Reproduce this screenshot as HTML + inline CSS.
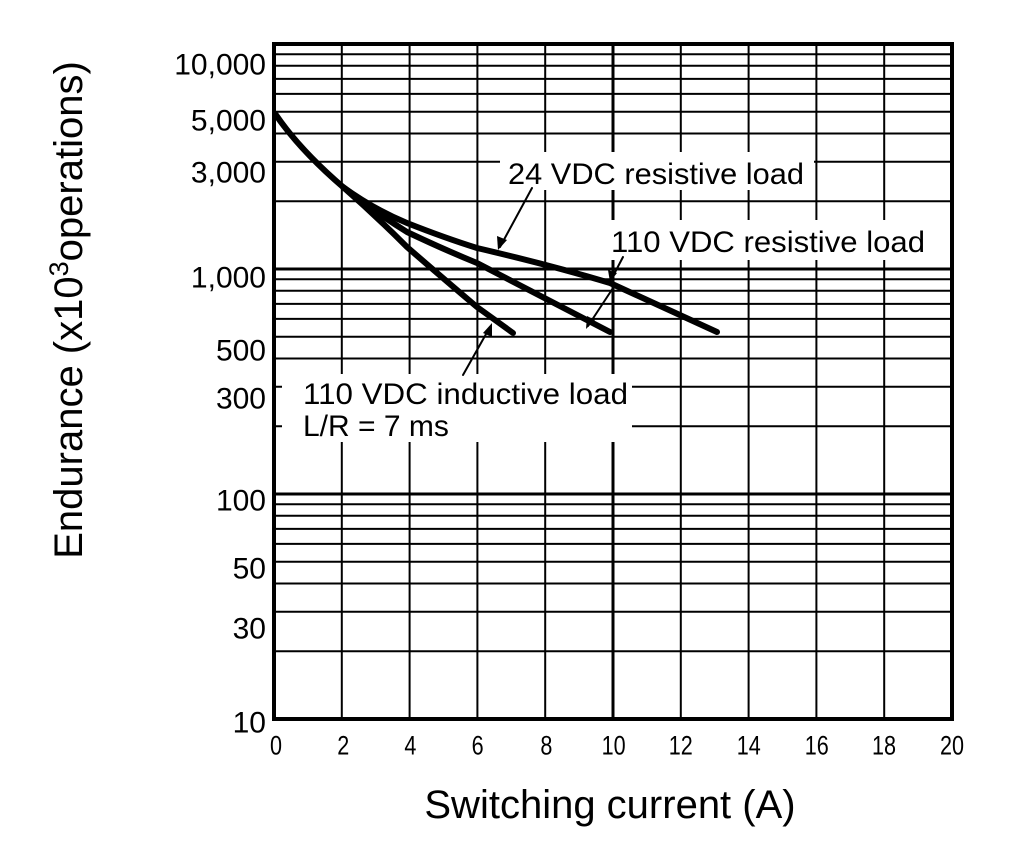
<!DOCTYPE html>
<html><head><meta charset="utf-8"><style>html,body{margin:0;padding:0;background:#fff}svg{display:block}</style></head>
<body>
<svg width="1020" height="848" viewBox="0 0 1020 848" xmlns="http://www.w3.org/2000/svg" font-family="Liberation Sans, sans-serif">
<rect width="1020" height="848" fill="#fff"/>
<g stroke="#000" stroke-width="2">
<line x1="274" x2="952" y1="651.3" y2="651.3"/><line x1="274" x2="952" y1="611.7" y2="611.7"/><line x1="274" x2="952" y1="583.5" y2="583.5"/><line x1="274" x2="952" y1="561.7" y2="561.7"/><line x1="274" x2="952" y1="543.9" y2="543.9"/><line x1="274" x2="952" y1="528.9" y2="528.9"/><line x1="274" x2="952" y1="515.8" y2="515.8"/><line x1="274" x2="952" y1="504.3" y2="504.3"/><line x1="274" x2="952" y1="494" y2="494" stroke-width="3"/>
<line x1="274" x2="952" y1="426.3" y2="426.3"/><line x1="274" x2="952" y1="386.7" y2="386.7"/><line x1="274" x2="952" y1="358.5" y2="358.5"/><line x1="274" x2="952" y1="336.7" y2="336.7"/><line x1="274" x2="952" y1="318.9" y2="318.9"/><line x1="274" x2="952" y1="303.9" y2="303.9"/><line x1="274" x2="952" y1="290.8" y2="290.8"/><line x1="274" x2="952" y1="279.3" y2="279.3"/><line x1="274" x2="952" y1="269" y2="269" stroke-width="3"/>
<line x1="274" x2="952" y1="201.3" y2="201.3"/><line x1="274" x2="952" y1="161.7" y2="161.7"/><line x1="274" x2="952" y1="133.5" y2="133.5"/><line x1="274" x2="952" y1="111.7" y2="111.7"/><line x1="274" x2="952" y1="93.9" y2="93.9"/><line x1="274" x2="952" y1="78.9" y2="78.9"/><line x1="274" x2="952" y1="65.8" y2="65.8"/><line x1="274" x2="952" y1="54.3" y2="54.3"/>
<line x1="341.8" x2="341.8" y1="44" y2="719"/><line x1="409.6" x2="409.6" y1="44" y2="719"/><line x1="477.4" x2="477.4" y1="44" y2="719"/><line x1="545.2" x2="545.2" y1="44" y2="719"/><line x1="613" x2="613" y1="44" y2="719" stroke-width="3"/><line x1="680.8" x2="680.8" y1="44" y2="719"/><line x1="748.6" x2="748.6" y1="44" y2="719"/><line x1="816.4" x2="816.4" y1="44" y2="719"/><line x1="884.2" x2="884.2" y1="44" y2="719"/>
<rect x="274" y="44" width="678" height="675" fill="none" stroke-width="4"/>
</g>
<g fill="#fff">
<rect x="500" y="152" width="314" height="38"/>
<rect x="606" y="220" width="324" height="40"/>
<rect x="282" y="374" width="350" height="68"/>
</g>
<g fill="none" stroke="#000" stroke-linecap="round" stroke-linejoin="round">
<path d="M276,115 Q300,150 343,187 Q375,215 407,247 Q445,280 477,307 L513,333" stroke-width="6"/>
<path d="M343,187 Q375,212 407,232 Q445,250 477,263 L610,332" stroke-width="6"/>
<path d="M343,187 Q375,210 407,223 Q445,238 477,248 Q550,265 610,283 L717,332" stroke-width="6"/>
<path d="M532,188 L500,247" stroke-width="2"/>
<path d="M623,257 L612,278" stroke-width="2"/>
<path d="M615,285 L588,326" stroke-width="2"/>
<path d="M463,375 L490,327" stroke-width="2"/>
</g>
<g fill="#000">
<polygon points="498,250 497,236 507,240"/>
<polygon points="610,282 608,270 617,273"/>
<polygon points="586,329 587,316 595,320"/>
<polygon points="492,323 483,333 492,337"/>
</g>
<g font-size="30" fill="#000">
<text x="508" y="184" textLength="296" lengthAdjust="spacingAndGlyphs">24 VDC resistive load</text>
<text x="611" y="252" textLength="314" lengthAdjust="spacingAndGlyphs">110 VDC resistive load</text>
<text x="303" y="404" textLength="325" lengthAdjust="spacingAndGlyphs">110 VDC inductive load</text>
<text x="303" y="436">L/R = 7 ms</text>
</g>
<g font-size="30" fill="#000" text-anchor="end" dominant-baseline="central">
<text x="266" y="65">10,000</text><text x="266" y="121">5,000</text><text x="266" y="173">3,000</text><text x="266" y="278">1,000</text><text x="266" y="351">500</text><text x="266" y="399">300</text><text x="266" y="501">100</text><text x="266" y="569">50</text><text x="266" y="629">30</text><text x="266" y="723">10</text>
</g>
<g font-size="27" fill="#000" text-anchor="middle" dominant-baseline="central" transform="scale(0.8,1)">
<text x="345" y="746">0</text><text x="429" y="746">2</text><text x="513" y="746">4</text><text x="597" y="746">6</text><text x="683" y="746">8</text><text x="767" y="746">10</text><text x="851" y="746">12</text><text x="936" y="746">14</text><text x="1021" y="746">16</text><text x="1105" y="746">18</text><text x="1190" y="746">20</text>
</g>
<text x="610" y="818" font-size="40" text-anchor="middle" fill="#000">Switching current (A)</text>
<text transform="translate(82,310) rotate(-90)" font-size="40" text-anchor="middle" fill="#000">Endurance (x10<tspan dy="-14" font-size="27">3</tspan><tspan dy="14">operations)</tspan></text>
</svg>
</body></html>
